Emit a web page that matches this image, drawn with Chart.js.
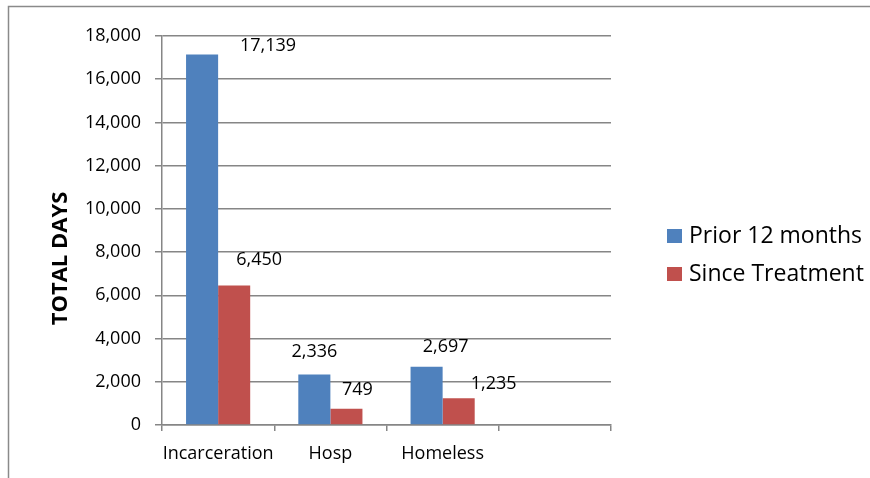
<!DOCTYPE html>
<html>
<head>
<meta charset="utf-8">
<script src="https://cdn.jsdelivr.net/npm/chart.js@4/dist/chart.umd.min.js"></script>
<style>
  html, body { margin: 0; padding: 0; background: #fff; }
  #wrap { width: 870px; height: 478px; position: relative; }
</style>
</head>
<body>
<div id="wrap"><canvas id="c" width="870" height="478"></canvas></div>
<script>
// ---- data ----
const categories = ['Incarceration', 'Hosp', 'Homeless', ''];
const seriesNames = ['Prior 12 months', 'Since Treatment'];
const priorValues = [17139, 2336, 2697, null];
const sinceValues = [6450, 749, 1235, null];
const yMax = 18000;
const yStep = 2000;
const yAxisTitle = 'TOTAL DAYS';

// ---- style ----
const FONT = '"Open Sans", "Liberation Sans", sans-serif';
const colors = ['#4F81BD', '#C0504D'];
const gridColor = '#868686';
// label offsets (px) from bar top-centre, per series, per category
const labelOffsets = [
  [[66, -9], [0, -23], [19, -20]],
  [[25, -26], [11, -19], [35, -14]]
];

const fmt = v => v.toLocaleString('en-US');

const frame = {
  id: 'frame',
  beforeDraw(chart) {
    const ctx = chart.ctx;
    ctx.save();
    ctx.fillStyle = '#fff';
    ctx.fillRect(0, 0, chart.width, chart.height);
    ctx.strokeStyle = '#8a8a8a';
    ctx.lineWidth = 1.5;
    ctx.beginPath();
    ctx.moveTo(8.5, chart.height);
    ctx.lineTo(8.5, 6.5);
    ctx.lineTo(chart.width, 6.5);
    ctx.stroke();
    ctx.restore();
  }
};

const yTitle = {
  id: 'yTitle',
  afterDraw(chart) {
    const ctx = chart.ctx;
    const area = chart.chartArea;
    ctx.save();
    ctx.font = 'bold 22px ' + FONT;
    ctx.fillStyle = '#000';
    ctx.textAlign = 'center';
    ctx.textBaseline = 'middle';
    ctx.translate(61, (area.top + area.bottom) / 2 + 28);
    ctx.rotate(-Math.PI / 2);
    ctx.fillText(yAxisTitle, 0, 0);
    ctx.restore();
  }
};

const valueLabels = {
  id: 'valueLabels',
  afterDatasetsDraw(chart) {
    const ctx = chart.ctx;
    ctx.save();
    ctx.font = '18px ' + FONT;
    ctx.fillStyle = '#000';
    ctx.textAlign = 'center';
    ctx.textBaseline = 'middle';
    chart.data.datasets.forEach((ds, di) => {
      const meta = chart.getDatasetMeta(di);
      meta.data.forEach((bar, i) => {
        const v = ds.data[i];
        if (v == null) return;
        const off = (labelOffsets[di] && labelOffsets[di][i]) || [0, -14];
        ctx.fillText(fmt(v), bar.x + off[0], bar.y + off[1]);
      });
    });
    ctx.restore();
  }
};

const sideLegend = {
  id: 'sideLegend',
  afterDraw(chart) {
    const ctx = chart.ctx;
    ctx.save();
    ctx.font = '23px ' + FONT;
    ctx.textBaseline = 'middle';
    ctx.textAlign = 'left';
    chart.data.datasets.forEach((ds, i) => {
      const y = 229 + i * 38;
      ctx.fillStyle = ds.backgroundColor;
      ctx.fillRect(667, y, 15, 14);
      ctx.fillStyle = '#000';
      ctx.fillText(ds.label, 689, y + 7);
    });
    ctx.restore();
  }
};

new Chart(document.getElementById('c'), {
  type: 'bar',
  data: {
    labels: categories,
    datasets: [
      { label: seriesNames[0], data: priorValues, backgroundColor: colors[0] },
      { label: seriesNames[1], data: sinceValues, backgroundColor: colors[1] }
    ]
  },
  options: {
    responsive: false,
    animation: false,
    devicePixelRatio: 1,
    layout: { padding: { left: 0, top: 36, right: 259, bottom: 0 } },
    datasets: { bar: { categoryPercentage: 64 / 112, barPercentage: 1.0, borderWidth: 0 } },
    plugins: {
      legend: { display: false },
      tooltip: { enabled: false }
    },
    scales: {
      x: {
        grid: { display: true, drawOnChartArea: false, offset: true, color: gridColor, tickLength: 6, lineWidth: 1.5 },
        border: { display: true, color: gridColor, width: 1.5 },
        ticks: { color: '#000', font: { family: FONT, size: 18 }, padding: 12, maxRotation: 0, autoSkip: false },
        afterFit(s) { s.height = 53; }
      },
      y: {
        min: 0,
        max: yMax,
        ticks: { stepSize: yStep, color: '#000', font: { family: FONT, size: 18 }, padding: 14, callback: v => fmt(v) },
        grid: { color: gridColor, lineWidth: 1.5, tickLength: 7 },
        border: { display: true, color: gridColor, width: 1.5 },
        afterFit(s) { s.width = 162; }
      }
    }
  },
  plugins: [frame, valueLabels, sideLegend, yTitle]
});
</script>
</body>
</html>
